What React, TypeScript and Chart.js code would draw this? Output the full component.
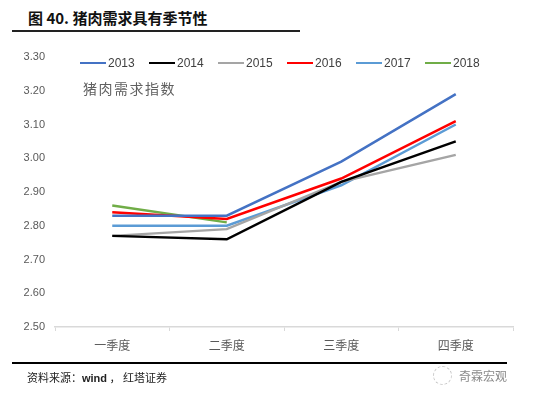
import React, { useEffect, useRef } from "react";
import { Chart, registerables } from "chart.js";

Chart.register(...registerables);

const categories = ["一季度", "二季度", "三季度", "四季度"];
const years = ["2013", "2014", "2015", "2016", "2017", "2018"];
const s2013 = [2.83, 2.83, 2.99, 3.19];
const s2014 = [2.77, 2.76, 2.93, 3.05];
const s2015 = [2.77, 2.79, 2.93, 3.01];
const s2016 = [2.84, 2.82, 2.94, 3.11];
const s2017 = [2.8, 2.8, 2.92, 3.1];
const s2018 = [2.86, 2.81, null, null];
const seriesValues = [s2013, s2014, s2015, s2016, s2017, s2018];
const colors = ["#4472C4", "#000000", "#A5A5A5", "#FF0000", "#5B9BD5", "#70AD47"];
const yMin = 2.5;
const yMax = 3.3;
const yStep = 0.1;

const CJK = '"Noto Sans CJK SC", "Noto Sans", sans-serif';

export default function App() {
  const ref = useRef<HTMLCanvasElement | null>(null);

  useEffect(() => {
    if (!ref.current) return;
    const chart = new Chart(ref.current, {
      type: "line",
      data: {
        labels: categories,
        datasets: years.map((y, i) => ({
          label: y,
          data: seriesValues[i],
          borderColor: colors[i],
          backgroundColor: colors[i],
          borderWidth: 2.5,
          pointRadius: 0,
          tension: 0,
          fill: false,
        })),
      },
      options: {
        animation: false,
        responsive: false,
        devicePixelRatio: 1,
        layout: { padding: { top: 57, right: 41, bottom: 0, left: 0 } },
        plugins: { legend: { display: false }, tooltip: { enabled: false } },
        scales: {
          x: {
            offset: true,
            afterFit: (s: any) => {
              s.height = 67;
            },
            grid: {
              offset: true,
              drawOnChartArea: false,
              drawTicks: true,
              tickLength: 4,
              color: "#d9d9d9",
            },
            border: { display: true, color: "#d9d9d9", width: 1.5 },
            ticks: {
              color: "#595959",
              padding: 7,
              font: { family: CJK, size: 12 },
            },
          },
          y: {
            min: yMin,
            max: yMax,
            afterFit: (s: any) => {
              s.width = 55;
            },
            grid: { display: false, drawTicks: false },
            border: { display: false },
            ticks: {
              stepSize: yStep,
              padding: 10,
              color: "#595959",
              font: { family: '"Liberation Sans", Arial, sans-serif', size: 11 },
              callback: (v: any) => Number(v).toFixed(2),
            },
          },
        },
      },
    });
    return () => chart.destroy();
  }, []);

  return (
    <div
      style={{
        position: "fixed",
        left: 0,
        top: 0,
        width: 554,
        height: 394,
        background: "#fff",
        overflow: "hidden",
      }}
    >
      <div
        style={{
          position: "absolute",
          left: 28,
          top: 8,
          fontFamily: CJK,
          fontWeight: 700,
          fontSize: 15,
          lineHeight: "20px",
          color: "#111",
          whiteSpace: "nowrap",
        }}
      >
        图 40. 猪肉需求具有季节性
      </div>
      <div
        style={{
          position: "absolute",
          left: 12,
          top: 30,
          width: 288,
          height: 2,
          background: "#222",
        }}
      />
      <canvas
        ref={ref}
        width={554}
        height={394}
        style={{ position: "absolute", left: 0, top: 0, width: 554, height: 394 }}
      />
      {years.map((y, i) => (
        <div
          key={y}
          style={{
            position: "absolute",
            left: 80 + i * 69,
            top: 55,
            height: 16,
            display: "flex",
            alignItems: "center",
            fontFamily: '"Liberation Sans", Arial, sans-serif',
            fontSize: 12,
            color: "#404040",
            whiteSpace: "nowrap",
          }}
        >
          <span
            style={{
              display: "inline-block",
              width: 26,
              height: 2.5,
              background: colors[i],
              marginRight: 2,
            }}
          />
          {y}
        </div>
      ))}
      <div
        style={{
          position: "absolute",
          left: 83,
          top: 78,
          fontFamily: CJK,
          fontSize: 14,
          letterSpacing: 1.5,
          color: "#606060",
          whiteSpace: "nowrap",
        }}
      >
        猪肉需求指数
      </div>
      <div
        style={{
          position: "absolute",
          left: 12,
          top: 362,
          width: 495,
          height: 2,
          background: "#000",
        }}
      />
      <div
        style={{
          position: "absolute",
          left: 27,
          top: 369,
          fontFamily: CJK,
          fontSize: 11,
          color: "#222",
          whiteSpace: "nowrap",
        }}
      >
        资料来源：<b style={{ fontFamily: '"Liberation Sans", Arial, sans-serif' }}>wind</b> ， 红塔证券
      </div>
      <div
        style={{
          position: "absolute",
          left: 433,
          top: 366,
          width: 17,
          height: 17,
          borderRadius: "50%",
          border: "1px dashed #c8c8c8",
        }}
      />
      <div
        style={{
          position: "absolute",
          left: 459,
          top: 367,
          fontFamily: CJK,
          fontSize: 12,
          color: "#8a8a8a",
          whiteSpace: "nowrap",
        }}
      >
        奇霖宏观
      </div>
    </div>
  );
}
